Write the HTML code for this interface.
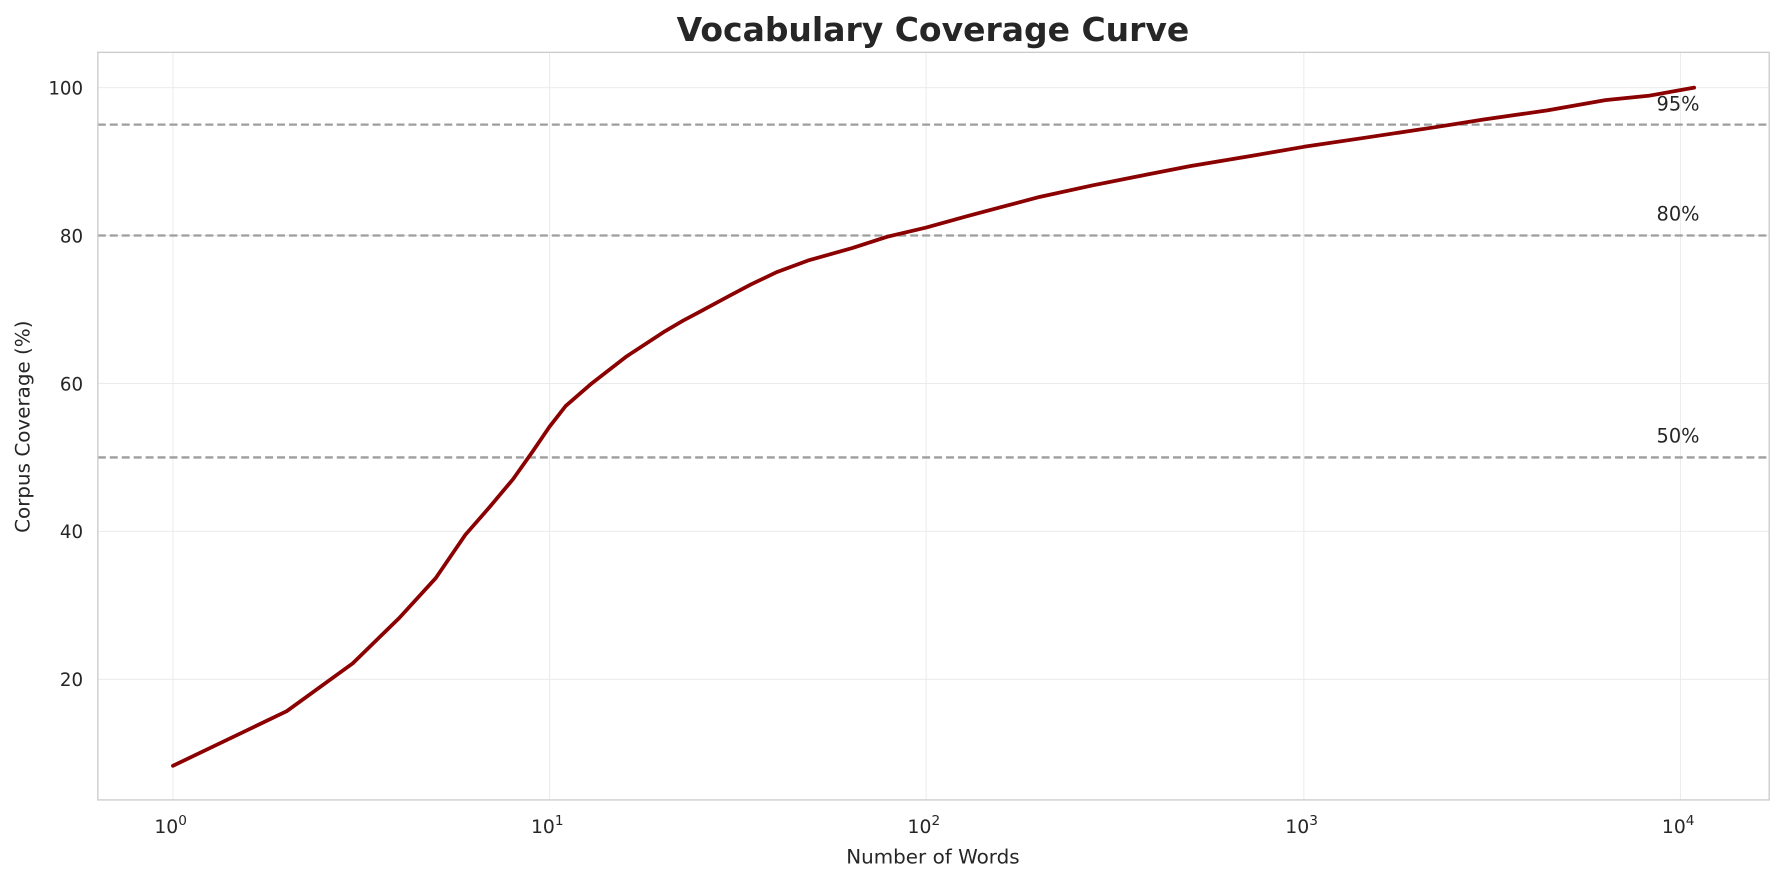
<!DOCTYPE html>
<html><head><meta charset="utf-8"><style>
html,body{margin:0;padding:0;background:#fff}
svg{display:block}
text{font-family:"DejaVu Sans","Liberation Sans",sans-serif;fill:#262626}
</style></head><body>
<svg width="1784" height="883" viewBox="0 0 1568 776" preserveAspectRatio="none" xmlns="http://www.w3.org/2000/svg">
<rect width="1568" height="776" fill="#fff"/>
<g stroke="#ebebeb" stroke-width="0.9">
<line x1="152" y1="46" x2="152" y2="703"/><line x1="483" y1="46" x2="483" y2="703"/>
<line x1="814" y1="46" x2="814" y2="703"/><line x1="1146" y1="46" x2="1146" y2="703"/>
<line x1="1477" y1="46" x2="1477" y2="703"/>
<line x1="86" y1="77" x2="1555" y2="77"/><line x1="86" y1="207" x2="1555" y2="207"/>
<line x1="86" y1="337" x2="1555" y2="337"/><line x1="86" y1="467" x2="1555" y2="467"/>
<line x1="86" y1="597" x2="1555" y2="597"/>
</g>
<g stroke="#9e9e9e" stroke-width="2" stroke-dasharray="7,3.5">
<line x1="86" y1="109.5" x2="1555" y2="109.5"/>
<line x1="86" y1="207" x2="1555" y2="207"/>
<line x1="86" y1="402" x2="1555" y2="402"/>
</g>
<polyline fill="none" stroke="#8b0000" stroke-width="3.3" stroke-linejoin="round" stroke-linecap="round" points="152,673 252,625 310,583 351,543 383,508 409,470 430,446 451,421 468,397 483,375 497,357 520,337 551,313 583,292 600,282 615,274 641,260 660,250 683,239 710,229 749,218 780,208 814,200 850,190 880,182 914,173 960,163 1000,155 1046,146 1100,137 1146,129 1200,121 1260,112 1304,105 1360,97 1411,88 1450,84 1489,77"/>
<rect x="86" y="46" width="1469" height="657" fill="none" stroke="#cccccc" stroke-width="1.2"/>
<g font-size="17" text-anchor="start">
<text x="1456" y="97">95%</text><text x="1456" y="194">80%</text><text x="1456" y="389">50%</text>
</g>
<g font-size="16" text-anchor="end">
<text x="73" y="83">100</text><text x="73" y="213">80</text><text x="73" y="343">60</text>
<text x="73" y="473">40</text><text x="73" y="603">20</text>
</g>
<g font-size="16.5" text-anchor="middle">
<text x="150" y="732">10<tspan dy="-7" font-size="12">0</tspan></text>
<text x="481" y="732">10<tspan dy="-7" font-size="12">1</tspan></text>
<text x="812" y="732">10<tspan dy="-7" font-size="12">2</tspan></text>
<text x="1144" y="732">10<tspan dy="-7" font-size="12">3</tspan></text>
<text x="1475" y="732">10<tspan dy="-7" font-size="12">4</tspan></text>
</g>
<text x="820" y="36" font-size="29" font-weight="bold" text-anchor="middle">Vocabulary Coverage Curve</text>
<text x="820" y="759" font-size="17.5" text-anchor="middle">Number of Words</text>
<text transform="translate(26,375) rotate(-90)" font-size="17.5" text-anchor="middle">Corpus Coverage (%)</text>
</svg>
</body></html>
